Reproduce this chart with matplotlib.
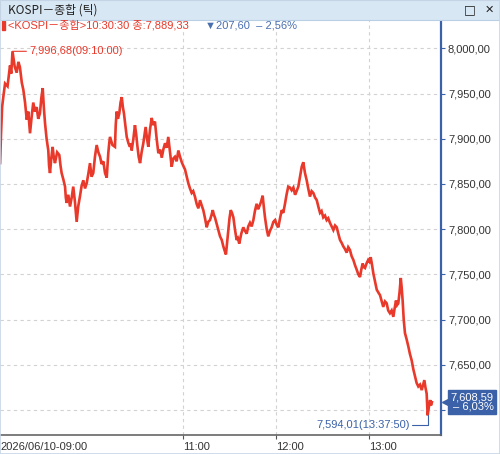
import numpy as np
import matplotlib.pyplot as plt
import matplotlib.transforms as mtransforms
from matplotlib.patches import Rectangle

plt.rcParams['font.family'] = ['Liberation Sans', 'Noto Sans CJK KR', 'DejaVu Sans']

# minutes after 09:00 and KOSPI tick price
minutes = [2.0, 2.6, 3.3, 4.2, 5.2, 6.8, 8.4, 9.2, 10.0, 11.4, 12.7, 13.8, 14.8, 16.0,
           17.0, 18.1, 19.2, 20.2, 21.3, 22.4, 23.4, 24.5, 25.6, 26.6, 27.7, 28.6,
           29.5, 30.2, 31.0, 32.0, 33.1, 33.6, 34.2, 35.0, 35.9, 36.6, 37.4, 38.8,
           40.2, 41.0, 41.7, 42.8, 43.9, 44.4, 44.9, 46.0, 47.1, 48.2, 49.2, 50.3,
           51.4, 52.4, 53.5, 54.6, 55.7, 56.8, 57.9, 59.0, 60.0, 61.0, 62.1, 63.2,
           64.3, 65.4, 66.5, 67.5, 68.6, 69.7, 70.8, 71.3, 71.8, 72.4, 72.9, 74.5,
           76.1, 76.6, 77.2, 78.0, 78.9, 79.7, 80.5, 81.2, 81.9, 82.8, 83.7, 84.8,
           85.8, 86.4, 86.9, 88.0, 89.0, 89.8, 90.5, 91.4, 92.3, 93.3, 94.4, 95.2,
           95.9, 96.8, 97.6, 98.7, 99.8, 100.8, 101.9, 103.0, 104.1, 105.2, 106.3,
           107.3, 108.4, 109.5, 110.5, 111.6, 112.7, 113.7, 114.8, 115.9, 117.0,
           118.1, 119.2, 120.2, 121.3, 122.4, 123.4, 124.5, 125.6, 126.6, 127.7,
           128.8, 129.9, 131.0, 132.1, 133.1, 134.2, 135.3, 136.3, 137.4, 138.3,
           139.2, 139.9, 140.6, 141.7, 142.8, 143.9, 145.0, 146.0, 146.9, 147.7,
           148.5, 149.2, 150.0, 150.8, 151.6, 152.5, 153.5, 154.6, 155.4, 156.3,
           157.6, 158.9, 160.0, 161.1, 162.1, 163.2, 164.3, 165.4, 166.4, 167.5,
           168.4, 169.2, 170.3, 171.4, 172.1, 172.9, 174.0, 175.0, 176.1, 177.2,
           178.3, 179.4, 180.4, 181.5, 182.6, 183.7, 184.7, 185.8, 186.8, 187.9,
           189.0, 190.1, 191.2, 192.3, 193.3, 194.4, 195.5, 196.6, 197.6, 198.7,
           199.8, 200.8, 201.9, 203.0, 204.1, 205.2, 206.3, 207.3, 208.4, 209.4,
           210.5, 211.6, 212.7, 213.7, 214.8, 215.9, 217.0, 218.1, 219.2, 220.2,
           221.3, 222.3, 223.4, 224.5, 225.6, 226.6, 227.7, 228.8, 229.9, 231.0,
           232.1, 233.1, 234.2, 235.0, 235.9, 236.6, 237.4, 238.4, 239.5, 240.3,
           241.1, 242.0, 242.8, 243.9, 245.0, 246.0, 247.1, 248.2, 249.2, 250.3,
           251.4, 252.4, 253.5, 254.6, 255.7, 256.5, 257.4, 258.1, 258.9, 259.7,
           260.5, 261.1, 261.7, 262.4, 263.2, 264.3, 265.4, 266.4, 267.5, 268.6,
           269.7, 270.7, 271.8, 272.9, 274.0, 274.9, 275.7, 276.4, 277.2, 277.83,
           278.6, 279.4, 280.0, 280.6]
prices = [7873, 7905, 7935, 7948, 7961, 7958, 7981, 7972, 7996.68, 7980, 7973, 7985,
          7979, 7962, 7954, 7940, 7921, 7930, 7906, 7925, 7940, 7930, 7935, 7922,
          7928, 7945, 7956, 7935, 7917, 7900, 7887, 7870, 7862, 7878, 7891, 7880,
          7873, 7885, 7882, 7870, 7862, 7855, 7847, 7835, 7829, 7838, 7825, 7835,
          7847, 7830, 7808, 7825, 7836, 7848, 7854, 7845, 7851, 7862, 7873, 7858,
          7862, 7880, 7893, 7885, 7880, 7872, 7875, 7862, 7857, 7870, 7884, 7895,
          7902, 7893, 7891, 7915, 7930, 7922, 7928, 7940, 7946, 7935, 7928, 7915,
          7902, 7895, 7891, 7895, 7887, 7900, 7915, 7905, 7893, 7880, 7873, 7885,
          7895, 7905, 7913, 7900, 7891, 7910, 7923, 7915, 7919, 7900, 7884, 7888,
          7879, 7888, 7895, 7890, 7902, 7885, 7869, 7878, 7880, 7875, 7887, 7880,
          7874, 7870, 7866, 7858, 7851, 7845, 7840, 7842, 7836, 7828, 7823, 7832,
          7826, 7821, 7812, 7802, 7808, 7810, 7815, 7821, 7816, 7813, 7806, 7799,
          7792, 7788, 7781, 7776, 7772, 7786, 7799, 7812, 7821, 7818, 7813, 7800,
          7788, 7790, 7784, 7795, 7802, 7798, 7795, 7803, 7807, 7803, 7810, 7820,
          7828, 7822, 7825, 7830, 7837, 7825, 7813, 7800, 7792, 7798, 7802, 7808,
          7810, 7805, 7802, 7812, 7821, 7818, 7828, 7838, 7847, 7846, 7843, 7846,
          7838, 7842, 7847, 7858, 7869, 7874, 7862, 7854, 7845, 7836, 7842, 7840,
          7835, 7832, 7825, 7818, 7820, 7813, 7815, 7810, 7812, 7807, 7803, 7799,
          7804, 7802, 7795, 7788, 7785, 7781, 7778, 7774, 7780, 7777, 7770, 7766,
          7760, 7755, 7750, 7747, 7755, 7762, 7758, 7757, 7762, 7766, 7764, 7769,
          7760, 7751, 7742, 7733, 7730, 7727, 7720, 7714, 7720, 7718, 7710, 7707,
          7710, 7703, 7712, 7721, 7716, 7718, 7730, 7746, 7735, 7721, 7700, 7685,
          7678, 7670, 7662, 7655, 7645, 7637, 7630, 7626, 7628, 7622, 7628, 7633,
          7625, 7618, 7594.01, 7603, 7611, 7605, 7608.59]

y_ticks = [7600, 7650, 7700, 7750, 7800, 7850, 7900, 7950, 8000]
x_ticks = [1.94, 120, 180, 240]
x_labels = ['2026/06/10-09:00', '11:00', '12:00', '13:00']

red = '#e8392b'
blue = '#3b62a8'
grey = '#333333'


def kfmt(v):
    return f'{v:,.2f}'.replace('.', ',')


fig = plt.figure(figsize=(5, 4.54), dpi=100)
ax = fig.add_axes([0, 1 - 435 / 454, 441 / 500, 415 / 454])

ax.plot(minutes, prices, color=red, lw=1.9, solid_joinstyle='miter')

ax.set_xlim(1.94, 286.45)
ax.set_ylim(7572.3, 8031.3)

ax.set_yticks(y_ticks)
ax.set_yticklabels([''] + [kfmt(v) for v in y_ticks[1:]])
ax.yaxis.tick_right()
ax.tick_params(axis='y', length=3, width=0.8, color=blue, labelsize=8,
               labelcolor=grey, pad=2)
ax.set_xticks(x_ticks)
ax.set_xticklabels(x_labels, ha='left')
ax.tick_params(axis='x', length=3, width=0.8, color='#555555', labelsize=8,
               labelcolor=grey, pad=2)
ax.xaxis.get_major_ticks()[0].tick1line.set_visible(False)

ax.grid(axis='y', color='#d2d2d2', ls=(0, (3, 3)), lw=0.8)
for t in x_ticks[1:]:
    ax.axvline(t, color='#d2d2d2', ls=(0, (3, 3)), lw=0.8, zorder=0)

for s in ['left', 'top']:
    ax.spines[s].set_visible(False)
ax.spines['right'].set_color(blue)
ax.spines['right'].set_linewidth(1.6)
ax.spines['bottom'].set_color('#666666')
ax.spines['bottom'].set_linewidth(1.2)

# max / min annotations
i_max = int(np.argmax(prices))
i_min = int(np.argmin(prices))
ax.annotate(f'{kfmt(prices[i_max])}(09:10:00)', xy=(minutes[i_max], prices[i_max]),
            xytext=(12, 0), textcoords='offset points', ha='left', va='center',
            color=red, fontsize=8,
            arrowprops=dict(arrowstyle='-', color=red, lw=0.8, shrinkA=0, shrinkB=0))
ax.annotate(f'{kfmt(prices[i_min])}(13:37:50)', xy=(minutes[i_min], prices[i_min]),
            xytext=(-13, -7), textcoords='offset points', ha='right', va='center',
            color=blue, fontsize=8,
            arrowprops=dict(arrowstyle='-', color=blue, lw=0.8, shrinkA=0, shrinkB=0,
                            connectionstyle='angle,angleA=0,angleB=90,rad=0'))

# current value box with a small notch pointing at the axis
last = prices[-1]
ytrans = ax.get_yaxis_transform()
ax.annotate(f'{kfmt(last)}\n– 6,03%', xy=(1.0, last), xycoords=ytrans,
            xytext=(7, 0), textcoords='offset points', ha='left', va='center',
            color='white', fontsize=8, linespacing=0.95, multialignment='right',
            bbox=dict(boxstyle='square,pad=0.22', fc=blue, ec=blue),
            annotation_clip=False)
notch = mtransforms.offset_copy(ytrans, fig=fig, x=6, y=0, units='dots')
ax.plot([1.0], [last], marker='<', ms=7, color=blue, mec=blue,
        transform=notch, clip_on=False)

# legend row
fig.patches.append(Rectangle((2 / 500, 1 - 30 / 454), 3 / 500, 9 / 454,
                             transform=fig.transFigure, color=red))
fig.text(8 / 500, 1 - 25 / 454, '<KOSPI－종합>10:30:30 종:7,889,33', color=red,
         fontsize=8, va='center')
fig.text(205 / 500, 1 - 25 / 454, '▼207,60  – 2,56%', color='#4a6fb0',
         fontsize=8, va='center', family=['Liberation Sans', 'DejaVu Sans'])

# title bar
fig.patches.append(Rectangle((0, 1 - 20 / 454), 1, 20 / 454, transform=fig.transFigure,
                             fc='#d8e7f4', ec='#b9cfe3', lw=0.8))
fig.text(8 / 500, 1 - 10 / 454, 'KOSPI－종합 (틱)', color='#222222', fontsize=8.5,
         va='center', family=['Noto Sans CJK KR', 'DejaVu Sans'])
fig.text(470 / 500, 1 - 10 / 454, '□', color='#222222', fontsize=9, va='center',
         ha='center', family='DejaVu Sans')
fig.text(489 / 500, 1 - 10 / 454, '✕', color='#222222', fontsize=8, va='center',
         ha='center', family='DejaVu Sans', weight='bold')
fig.patches.append(Rectangle((0, 0), 1, 1, transform=fig.transFigure,
                             fill=False, ec='#c7d6e6', lw=1.2))

fig.savefig('out.png', dpi=100)
